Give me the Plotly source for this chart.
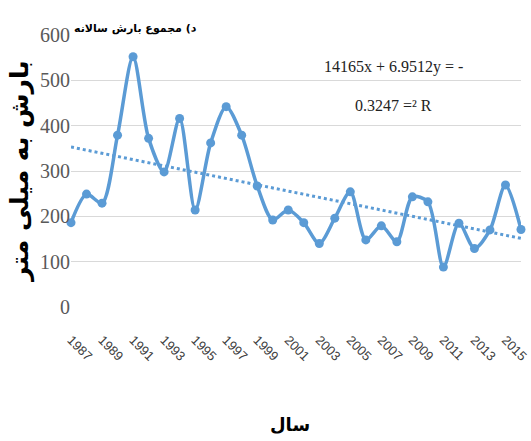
import plotly.graph_objects as go

years = list(range(1987, 2017))
rainfall = [186, 249, 229, 379, 552, 372, 298, 416, 214, 362,
            442, 379, 267, 192, 214, 186, 140, 196, 254, 148,
            179, 144, 243, 232, 88, 185, 129, 170, 269, 171]
trend_slope = -6.9512
trend_intercept = 14165
tick_years = list(range(1987, 2016, 2))
tick_labels = [str(y) for y in tick_years]
y_ticks = [0, 100, 200, 300, 400, 500, 600]

title_text = "د) مجموع بارش سالانه"
eq_text = "14165x + 6.9512y = -"
r2_text = "0.3247 =² R"
x_title = "سال"
y_title = "بارش به میلی متر"

blue = "#5B9BD5"

trend_x = [years[0], years[-1]]
trend_y = [trend_intercept + trend_slope * x for x in trend_x]

fig = go.Figure()
fig.add_trace(go.Scatter(
    x=trend_x, y=trend_y, mode="lines",
    line=dict(color=blue, width=3, dash="dot"),
    hoverinfo="skip", showlegend=False, cliponaxis=False,
))
fig.add_trace(go.Scatter(
    x=years, y=rainfall, mode="lines+markers",
    line=dict(color=blue, width=3.5, shape="spline", smoothing=0.8),
    marker=dict(color=blue, size=9),
    showlegend=False, cliponaxis=False,
))

W, H = 531, 441
L, R, T, B = 71, 10, 35, 134
pw = W - L - R
ph = H - T - B


def px(x):
    return (x - L) / pw


def py(y):
    return (H - B - y) / ph


fig.update_layout(
    width=W, height=H,
    margin=dict(l=L, r=R, t=T, b=B, autoexpand=False),
    paper_bgcolor="white", plot_bgcolor="white",
    xaxis=dict(
        range=[years[0], years[-1]], automargin=False,
        tickvals=tick_years, ticktext=tick_labels,
        tickangle=45, showgrid=False, zeroline=False, showline=False,
        tickfont=dict(family="Liberation Sans", size=13, color="#404040"),
        ticks="", ticklabelstandoff=22, ticklabelshift=0,
        ticklabeloverflow="allow",
    ),
    yaxis=dict(
        range=[0, 600], tickvals=y_ticks, automargin=False,
        showgrid=True, gridcolor="#D9D9D9", gridwidth=1.3,
        zeroline=False, showline=False, ticks="",
        tickfont=dict(family="Liberation Serif", size=20, color="#595959"),
    ),
    annotations=[
        dict(text="<b>" + title_text + "</b>", xref="paper", yref="paper",
             x=px(72), y=py(28), xanchor="left", yanchor="middle",
             showarrow=False, font=dict(family="DejaVu Sans", size=11, color="black")),
        dict(text=eq_text, xref="paper", yref="paper",
             x=px(393), y=py(67), xanchor="center", yanchor="middle",
             showarrow=False, font=dict(family="Liberation Serif", size=16, color="#222222")),
        dict(text=r2_text, xref="paper", yref="paper",
             x=px(393), y=py(105), xanchor="center", yanchor="middle",
             showarrow=False, font=dict(family="Liberation Serif", size=16, color="#222222")),
        dict(text="<b>" + x_title + "</b>", xref="paper", yref="paper",
             x=px(290), y=py(424), xanchor="center", yanchor="middle",
             showarrow=False, font=dict(family="DejaVu Sans", size=18, color="black")),
        dict(text="<b>" + y_title + "</b>", xref="paper", yref="paper",
             x=px(20), y=py(172), xanchor="center", yanchor="middle", textangle=-90,
             showarrow=False, font=dict(family="DejaVu Sans", size=25, color="black")),
    ],
)

fig.write_html("out.html", post_script="document.body.style.margin='0';",
               config={"displayModeBar": False})
